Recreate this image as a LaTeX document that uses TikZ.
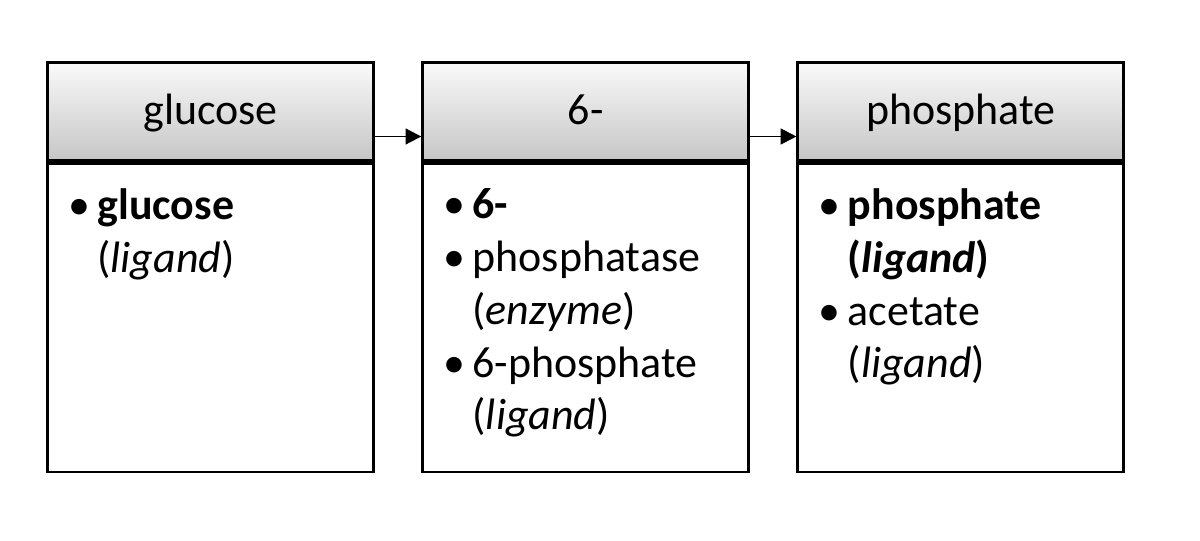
\documentclass[tikz,border=0pt]{standalone}
\usepackage{fontspec}
\setmainfont{Carlito}
\usetikzlibrary{positioning,arrows.meta}

\tikzset{
  head/.style={draw, line width=1.5pt, minimum width=6.52cm, minimum height=1.97cm,
    top color=gray!4, bottom color=gray!45, inner sep=0pt,
    text height=0.72cm, text depth=0.2cm,
    font=\fontsize{25}{30}\selectfont},
  body/.style={draw, line width=1.5pt, minimum width=6.52cm, minimum height=6.17cm,
    anchor=north, inner sep=0pt},
  items/.style={anchor=north west, align=left, inner sep=0pt,
    font=\fontsize{25}{30}\selectfont},
  link/.style={line width=1.1pt, -{Triangle[length=9pt,width=9pt]}}
}
\newcommand{\itm}[2]{\makebox[0.58cm][l]{\textbullet}#1\\\hspace*{0.58cm}#2}
\newcommand{\one}[1]{\makebox[0.58cm][l]{\textbullet}#1}

\begin{document}
\begin{tikzpicture}
\useasboundingbox (0,0) rectangle (24,-10.8);

% headers
\node[head] (hglu) at (4.21,-2.23) {glucose};
\node[head, right=0.93cm of hglu] (hsix) {6-};
\node[head, right=0.93cm of hsix] (hpho) {phosphate};

% bodies
\node[body] (bglu) at (hglu.south) {};
\node[body] (bsix) at (hsix.south) {};
\node[body] (bpho) at (hpho.south) {};

% texts
\node[items] (tglu) at ([xshift=0.44cm,yshift=-0.53cm]bglu.north west)
  {\itm{\textbf{glucose}}{(\textit{ligand})}};
\node[items] (tsix) at ([xshift=0.44cm,yshift=-0.53cm]bsix.north west)
  {\one{\textbf{6-}}\\
   \itm{phosphatase}{(\textit{enzyme})}\\
   \itm{6-phosphate}{(\textit{ligand})}};
\node[items] (tpho) at ([xshift=0.44cm,yshift=-0.53cm]bpho.north west)
  {\itm{\textbf{phosphate}}{\textbf{(\textit{ligand})}}\\
   \itm{acetate}{(\textit{ligand})}};

% arrows
\draw[link] ([yshift=-0.5cm]hglu.east) -- ([yshift=-0.5cm]hsix.west);
\draw[link] ([yshift=-0.5cm]hsix.east) -- ([yshift=-0.5cm]hpho.west);
\end{tikzpicture}
\end{document}
